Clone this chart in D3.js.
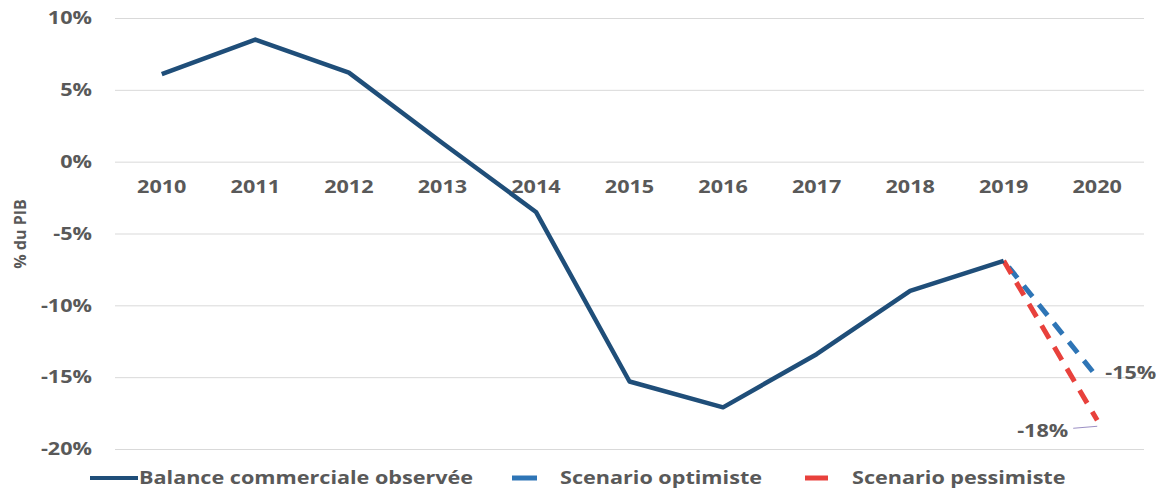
<!DOCTYPE html>
<html>
<head>
<meta charset="utf-8">
<script src="https://cdn.jsdelivr.net/npm/d3@7"></script>
<style>
  html, body { margin: 0; padding: 0; background: #ffffff; }
  svg text { font-family: "Open Sans", "DejaVu Sans", sans-serif; font-weight: 700; fill: #595959; }
</style>
</head>
<body>
<svg id="chart" width="1162" height="491"></svg>
<script>
// Balance commerciale (% du PIB)
const years = ["2010", "2011", "2012", "2013", "2014", "2015", "2016", "2017", "2018", "2019", "2020"];
const observed = [6.1, 8.5, 6.2, 1.3, -3.5, -15.3, -17.1, -13.4, -9.0, -6.9];
const optimistic = [-6.9, -15];   // 2019 -> 2020
const pessimistic = [-6.9, -18];  // 2019 -> 2020
const yTicks = [10, 5, 0, -5, -10, -15, -20];
const seriesNames = ["Balance commerciale observée", "Scenario optimiste", "Scenario pessimiste"];
const seriesColors = ["#1f4e79", "#2e75b6", "#e8413c"];

const SX = 1.2;          // horizontal stretch applied to all text
const FONT = "18px";

const svg = d3.select("#chart");

const x = d3.scaleBand().domain(years).range([115, 1144]);
const y = d3.scaleLinear().domain([-20, 10]).range([449, 18]);
const cx = d => x(d) + x.bandwidth() / 2;

// Text placed at (px, py) and stretched horizontally around that anchor point
function label(parent, px, py, txt, anchor, size) {
  return parent.append("text")
    .attr("transform", `translate(${px},${py}) scale(${SX},1)`)
    .attr("text-anchor", anchor || "start")
    .attr("dy", "0.35em")
    .style("font-size", size || FONT)
    .text(txt);
}

// Horizontal gridlines with percentage labels
const yAxis = d3.axisLeft(y)
  .tickValues(yTicks)
  .tickSize(-(1144 - 115))
  .tickPadding(23)
  .tickFormat(d => d + "%");
const gy = svg.append("g").attr("transform", "translate(115,0)").call(yAxis);
gy.select(".domain").remove();
gy.selectAll(".tick line").attr("stroke", "#d9d9d9").attr("stroke-width", 1);
gy.selectAll(".tick text")
  .attr("x", 0)
  .attr("transform", `translate(-23,0) scale(${SX},1)`)
  .style("font-size", FONT)
  .attr("fill", "#595959");

// Year labels sit just under the zero line
const xAxis = d3.axisBottom(x).tickSize(0).tickPadding(0);
const gx = svg.append("g").attr("transform", `translate(0,${y(0)})`).call(xAxis);
gx.select(".domain").remove();
gx.selectAll(".tick text")
  .attr("y", 0)
  .attr("dy", "0.35em")
  .attr("transform", `translate(0,25) scale(${SX},1)`)
  .style("font-size", FONT)
  .attr("fill", "#595959");

// Y-axis title
svg.append("text")
  .attr("transform", `translate(20,234) rotate(-90)`)
  .attr("text-anchor", "middle")
  .attr("dy", "0.35em")
  .style("font-size", "16px")
  .text("% du PIB");

const line = d3.line().x(d => cx(d[0])).y(d => y(d[1]));

// Scenario lines for 2020
const optData = [["2019", optimistic[0]], ["2020", optimistic[1]]];
const pesData = [["2019", pessimistic[0]], ["2020", pessimistic[1]]];

svg.append("path")
  .datum(optData)
  .attr("d", line)
  .attr("fill", "none")
  .attr("stroke", seriesColors[1])
  .attr("stroke-width", 5)
  .attr("stroke-dasharray", "14,10")
  .attr("stroke-dashoffset", -8);

svg.append("path")
  .datum(pesData)
  .attr("d", line)
  .attr("fill", "none")
  .attr("stroke", seriesColors[2])
  .attr("stroke-width", 5)
  .attr("stroke-dasharray", "15,10");

// Observed line
svg.append("path")
  .datum(years.slice(0, observed.length).map((yr, i) => [yr, observed[i]]))
  .attr("d", line)
  .attr("fill", "none")
  .attr("stroke", seriesColors[0])
  .attr("stroke-width", 4.5)
  .attr("stroke-linejoin", "round");

// End-point labels
label(svg, cx("2020") + 8, y(optimistic[1]) - 4, optimistic[1] + "%", "start");

svg.append("line")
  .attr("x1", cx("2020") - 24).attr("x2", cx("2020"))
  .attr("y1", y(pessimistic[1]) + 8).attr("y2", y(pessimistic[1]) + 6)
  .attr("stroke", "#9b8fc4").attr("stroke-width", 1);

label(svg, cx("2020") - 29, y(pessimistic[1]) + 10, pessimistic[1] + "%", "end");

// Legend
const legendItems = [
  { name: seriesNames[0], color: seriesColors[0], x1: 90, x2: 138, tx: 139, w: 4 },
  { name: seriesNames[1], color: seriesColors[1], x1: 512, x2: 537, tx: 560, w: 5 },
  { name: seriesNames[2], color: seriesColors[2], x1: 805, x2: 828, tx: 852, w: 5 }
];
const lg = svg.append("g");
legendItems.forEach(it => {
  lg.append("line")
    .attr("x1", it.x1).attr("x2", it.x2)
    .attr("y1", 478).attr("y2", 478)
    .attr("stroke", it.color).attr("stroke-width", it.w);
  label(lg, it.tx, 478, it.name, "start");
});
</script>
</body>
</html>
